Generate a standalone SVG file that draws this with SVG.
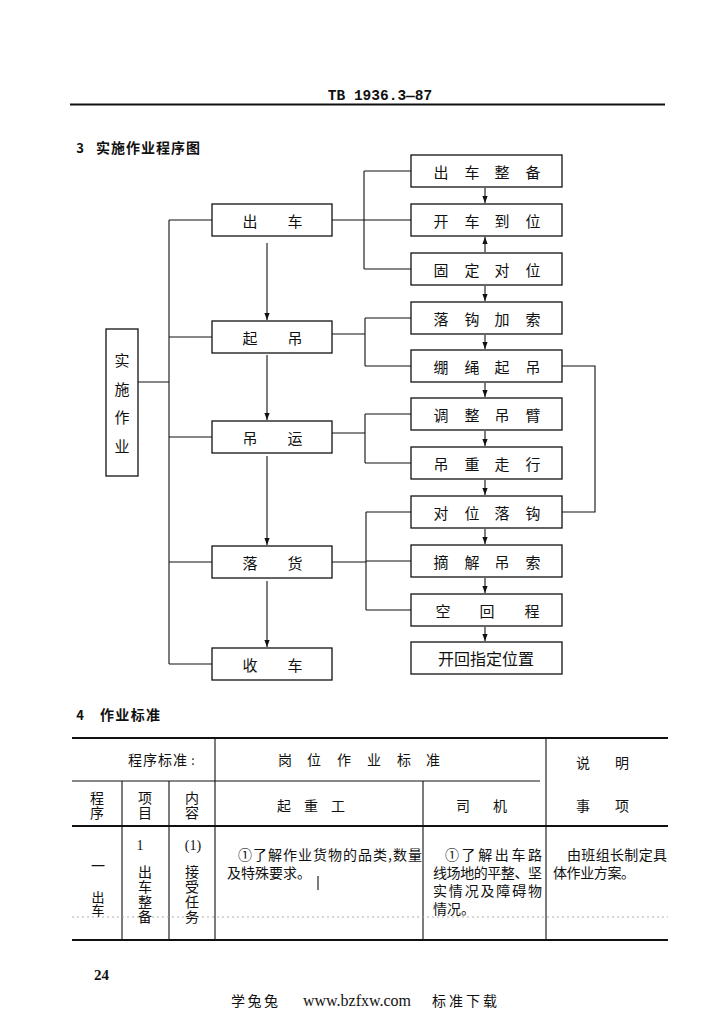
<svg xmlns="http://www.w3.org/2000/svg" width="725" height="1024" viewBox="0 0 725 1024">
<style>
.bg{fill:#fff}
.box{fill:#fff;stroke:#111;stroke-width:1.3}
.ln{stroke:#111;stroke-width:1.1;fill:none}
.tl{stroke:#111;stroke-width:1.1;fill:none}
.tk{stroke:#111;stroke-width:1.8;fill:none}
.dot{stroke:#999;stroke-width:0.8;stroke-dasharray:2 3;fill:none}
.t{font-family:"Noto Sans CJK SC","Noto Sans",sans-serif;fill:#111;dominant-baseline:central;text-anchor:middle}
.v{writing-mode:vertical-rl}
.m{font-size:15px}
.r{font-size:15px}
.b{font-weight:bold}
.s{font-family:"Liberation Serif","Noto Sans CJK SC",serif;fill:#111;dominant-baseline:central}
.bd{font-family:"Noto Sans CJK SC","Noto Sans",sans-serif;fill:#111;font-size:14px;dominant-baseline:central}
</style>
<defs>
<marker id="ah" viewBox="0 0 8 8" refX="8" refY="4" markerWidth="7" markerHeight="7" markerUnits="userSpaceOnUse" orient="auto">
<path d="M0,1 L8,4 L0,7 z" fill="#111"/>
</marker>
</defs>
<rect class="bg" x="0" y="0" width="725" height="1024"/>

<!-- header -->
<g id="header">
<text x="380" y="100" font-family="Liberation Mono" font-weight="bold" font-size="14.5" text-anchor="middle" fill="#111">TB 1936.3—87</text>
<path d="M70,104.5 H665" stroke="#111" stroke-width="2"/>
<text class="t b" x="80" y="147" font-size="13">3</text>
<text class="bd b" x="96" y="147" font-size="13.5" textLength="104" lengthAdjust="spacing">实施作业程序图</text>
</g>

<!-- connectors -->
<g id="connectors">
<path class="ln" d="M169,220 V664 M169,220 H212 M169,337 H212 M169,437 H212 M169,562 H212 M169,664 H212 M138,382 H169"/>
<path class="ln" d="M332,220 H364 M364,171 V269 M364,171 H411 M364,220 H411 M364,269 H411"/>
<path class="ln" d="M332,334 H365 M365,318 V366 M365,318 H411 M365,366 H411"/>
<path class="ln" d="M332,433 H365 M365,414 V463 M365,414 H411 M365,463 H411"/>
<path class="ln" d="M332,562 H366 M366,512 V610 M366,512 H411 M366,561 H411 M366,610 H411"/>
<path class="ln" d="M562,366 H595 V512 H562"/>
<g marker-end="url(#ah)">
<path class="ln" d="M267,243 V320"/>
<path class="ln" d="M267,355 V420"/>
<path class="ln" d="M267,456 V545"/>
<path class="ln" d="M267,581 V647"/>
<path class="ln" d="M485,188 V203"/>
<path class="ln" d="M485,252 V237"/>
<path class="ln" d="M485,286 V301"/>
<path class="ln" d="M485,335 V349"/>
<path class="ln" d="M485,383 V397"/>
<path class="ln" d="M485,431 V446"/>
<path class="ln" d="M485,480 V495"/>
<path class="ln" d="M485,529 V544"/>
<path class="ln" d="M485,578 V593"/>
<path class="ln" d="M485,627 V641"/>
</g>
</g>

<!-- left node -->
<g id="n-shishi">
<rect class="box" x="106" y="329" width="32" height="147"/>
<text class="t v" font-size="15" letter-spacing="13.5" x="122" y="410">实施作业</text>
</g>

<!-- middle nodes -->
<g id="n-chuche"><rect class="box" x="212" y="204" width="120" height="32"/><text class="t m" x="250 295" y="220">出车</text></g>
<g id="n-qidiao"><rect class="box" x="212" y="321" width="120" height="32"/><text class="t m" x="250 295" y="337">起吊</text></g>
<g id="n-diaoyun"><rect class="box" x="212" y="421" width="120" height="32"/><text class="t m" x="250 295" y="437">吊运</text></g>
<g id="n-luohuo"><rect class="box" x="212" y="546" width="120" height="32"/><text class="t m" x="250 295" y="562">落货</text></g>
<g id="n-shouche"><rect class="box" x="212" y="648" width="120" height="32"/><text class="t m" x="250 295" y="664">收车</text></g>

<!-- right nodes -->
<g id="r1"><rect class="box" x="411" y="155" width="151" height="32"/><text class="t r" x="441 472 502 533" y="171">出车整备</text></g>
<g id="r2"><rect class="box" x="411" y="204" width="151" height="32"/><text class="t r" x="441 472 502 533" y="220">开车到位</text></g>
<g id="r3"><rect class="box" x="411" y="253" width="151" height="32"/><text class="t r" x="441 472 502 533" y="269">固定对位</text></g>
<g id="r4"><rect class="box" x="411" y="302" width="151" height="32"/><text class="t r" x="441 472 502 533" y="318">落钩加索</text></g>
<g id="r5"><rect class="box" x="411" y="350" width="151" height="32"/><text class="t r" x="441 472 502 533" y="366">绷绳起吊</text></g>
<g id="r6"><rect class="box" x="411" y="398" width="151" height="32"/><text class="t r" x="441 472 502 533" y="414">调整吊臂</text></g>
<g id="r7"><rect class="box" x="411" y="447" width="151" height="32"/><text class="t r" x="441 472 502 533" y="463">吊重走行</text></g>
<g id="r8"><rect class="box" x="411" y="496" width="151" height="32"/><text class="t r" x="441 472 502 533" y="512">对位落钩</text></g>
<g id="r9"><rect class="box" x="411" y="545" width="151" height="32"/><text class="t r" x="441 472 502 533" y="561">摘解吊索</text></g>
<g id="r10"><rect class="box" x="411" y="594" width="151" height="32"/><text class="t r" x="443 487 532" y="610">空回程</text></g>
<g id="r11"><rect class="box" x="411" y="642" width="151" height="32"/><text class="t" font-size="16" x="486" y="658">开回指定位置</text></g>

<!-- section 4 -->
<g id="sec4">
<text class="t b" x="80" y="714" font-size="13">4</text>
<text class="bd b" x="100" y="714" font-size="13.5" textLength="60" lengthAdjust="spacing">作业标准</text>
</g>

<!-- table -->
<g id="table">
<path class="tk" d="M72,738 H668"/>
<path class="tl" d="M72,781 H540"/>
<path class="tk" d="M72,826 H668" stroke-width="1.4"/>
<path class="tk" d="M72,940 H668" stroke-width="1.4"/>
<path class="tl" d="M215,738 V940 M546,738 V940 M122,781 V940 M169,781 V940 M423,781 V940"/>
<path class="dot" d="M72,917 H668"/>
<path class="tl" d="M318,876 V890"/>

<text class="t" font-size="14" x="135 150 165 180" y="759">程序标准</text>
<text class="t" font-size="12" x="193" y="759">:</text>
<text class="t" font-size="14" x="285 314 344 374 404 433" y="759">岗位作业标准</text>
<text class="t" font-size="14" x="583 622" y="762">说明</text>
<text class="t v" font-size="14" letter-spacing="1.5" x="97" y="806">程序</text>
<text class="t v" font-size="14" letter-spacing="1.5" x="145" y="806">项目</text>
<text class="t v" font-size="14" letter-spacing="1.5" x="192" y="806">内容</text>
<text class="t" font-size="14" x="284 311 338" y="805">起重工</text>
<text class="t" font-size="14" x="463 500" y="805">司机</text>
<text class="t" font-size="14" x="583 622" y="805">事项</text>

<text class="t" font-size="14" x="98" y="865">一</text>
<text class="t v" font-size="13" letter-spacing="0" x="98" y="904">出车</text>
<text class="s" font-size="14" x="140" y="845" text-anchor="middle">1</text>
<text class="t v" font-size="14" letter-spacing="1" x="145" y="895">出车整备</text>
<text class="s" font-size="14" x="193" y="845" text-anchor="middle">(1)</text>
<text class="t v" font-size="14" letter-spacing="1" x="192" y="895">接受任务</text>

<text class="bd" x="238" y="854" textLength="184" lengthAdjust="spacing">①了解作业货物的品类,数量</text>
<text class="bd" x="227" y="872">及特殊要求。</text>
<text class="bd" x="445" y="854" textLength="97" lengthAdjust="spacing">①了解出车路</text>
<text class="bd" x="433" y="872" textLength="109" lengthAdjust="spacing">线场地的平整、坚</text>
<text class="bd" x="433" y="890" textLength="109" lengthAdjust="spacing">实情况及障碍物</text>
<text class="bd" x="433" y="908">情况。</text>
<text class="bd" x="567" y="854" textLength="100" lengthAdjust="spacing">由班组长制定具</text>
<text class="bd" x="553" y="872" textLength="82" lengthAdjust="spacing">体作业方案。</text>
</g>

<!-- footer -->
<g id="footer">
<text class="s" font-size="15" font-weight="bold" x="94" y="975">24</text>
<text class="bd" font-size="16" x="231" y="1000" textLength="47" lengthAdjust="spacing">学兔兔</text>
<text class="s" font-size="16" x="303" y="1000" textLength="108" lengthAdjust="spacingAndGlyphs">www.bzfxw.com</text>
<text class="bd" font-size="16" x="432" y="1000" textLength="65" lengthAdjust="spacing">标准下载</text>
</g>
</svg>
